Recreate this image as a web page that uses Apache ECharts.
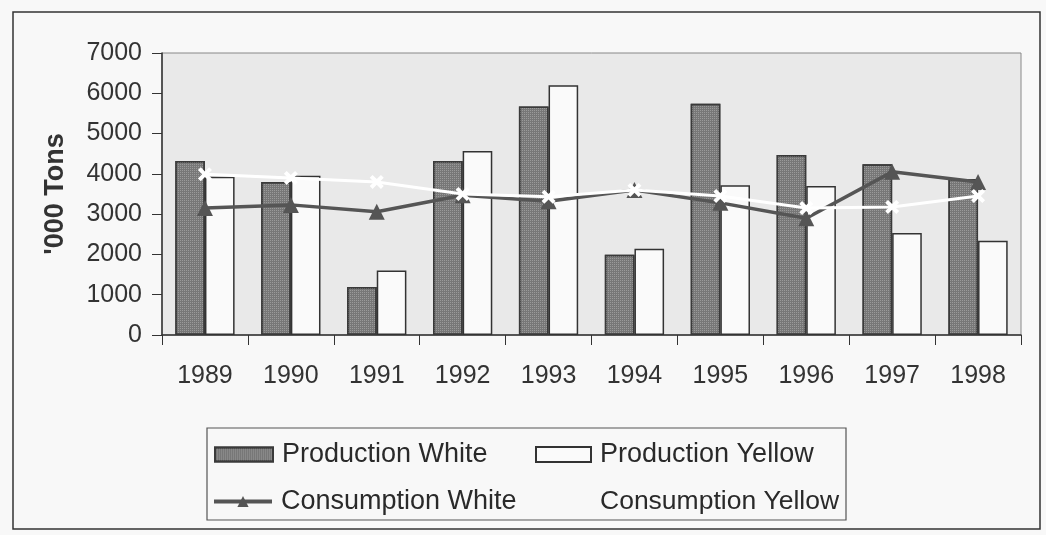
<!DOCTYPE html>
<html>
<head>
<meta charset="utf-8">
<script src="https://cdn.jsdelivr.net/npm/echarts@6/dist/echarts.min.js"></script>
<style>
html,body{margin:0;padding:0;background:#f8f8f8;}
#chart{width:1046px;height:535px;}
</style>
</head>
<body>
<div id="chart"></div>
<script>
const years = ['1989','1990','1991','1992','1993','1994','1995','1996','1997','1998'];
const productionWhite  = [4320, 3800, 1190, 4320, 5670, 1990, 5740, 4470, 4240, 3870];
const productionYellow = [3930, 3950, 1600, 4570, 6200, 2140, 3720, 3700, 2530, 2340];
const consumptionWhite = [3150, 3230, 3060, 3470, 3320, 3600, 3280, 2900, 4050, 3800];
const consumptionYellow= [3990, 3900, 3800, 3500, 3430, 3600, 3450, 3150, 3180, 3450];
const yTicks = [0, 1000, 2000, 3000, 4000, 5000, 6000, 7000];

const FONT = 'Liberation Sans, Arial, sans-serif';
const xPath = 'path://M2,0 L5,3 L8,0 L10,2 L7,5 L10,8 L8,10 L5,7 L2,10 L0,8 L3,5 L0,2 Z';

const chart = echarts.init(document.getElementById('chart'), null, {renderer:'canvas'});

const legendBase = {
  itemWidth: 58, itemHeight: 14,
  textStyle: {fontFamily: FONT, fontSize: 27, color: '#2a2a2a', padding:[0,0,0,4]},
  lineStyle: {width: 4},
  selectedMode: false
};

chart.setOption({
  backgroundColor: '#f8f8f8',
  animation: false,
  graphic: [
    {type:'rect', shape:{x:13, y:12, width:1027, height:517}, style:{fill:'none', stroke:'#333', lineWidth:1.5}, silent:true, z:-1},
    {type:'rect', shape:{x:207, y:428, width:639, height:92}, style:{fill:'none', stroke:'#555', lineWidth:1.2}, silent:true}
  ],
  grid: {left:162, right:25, top:53, bottom:200, show:true, backgroundColor:'#e9e9e9', borderColor:'#888', borderWidth:1},
  legend: [
    Object.assign({}, legendBase, {data:[{name:'Production White', icon:'rect'}], left:209, top:436}),
    Object.assign({}, legendBase, {data:[{name:'Production Yellow', icon:'rect'}], left:530, top:436, itemWidth:55, itemHeight:15}),
    Object.assign({}, legendBase, {data:['Consumption White'], left:207, top:483}),
    Object.assign({}, legendBase, {data:[{name:'Consumption Yellow', icon:'none'}], left:528, top:483, textStyle:{fontFamily: FONT, fontSize: 26.5, color: '#2a2a2a', padding:[0,0,0,4]}})
  ],
  xAxis: {
    type:'category', data: years,
    axisLine:{show:true, lineStyle:{color:'#333', width:1.5}},
    axisTick:{show:true, alignWithLabel:false, length:10, lineStyle:{color:'#333'}},
    axisLabel:{fontFamily:FONT, fontSize:25, color:'#333', margin:29}
  },
  yAxis: {
    type:'value', min: yTicks[0], max: yTicks[yTicks.length-1], interval:1000,
    name:"'000 Tons", nameLocation:'middle', nameGap:93, nameRotate:90,
    nameTextStyle:{fontFamily:FONT, fontSize:27, fontWeight:'bold', color:'#333'},
    axisLine:{show:true, lineStyle:{color:'#333', width:1.5}},
    axisTick:{show:true, length:10, lineStyle:{color:'#333'}},
    axisLabel:{fontFamily:FONT, fontSize:25, color:'#333', margin:20, formatter: v => String(v)},
    splitLine:{show:false}
  },
  series: [
    {name:'Production White', type:'bar', data: productionWhite, barGap:'0%', barCategoryGap:'31%',
     itemStyle:{color:'#777', borderColor:'#3a3a3a', borderWidth:1.5,
       decal:{symbol:'rect', symbolSize:1, dashArrayX:[1,1], dashArrayY:[1,1], color:'rgba(170,170,170,0.7)'}}},
    {name:'Production Yellow', type:'bar', data: productionYellow,
     itemStyle:{color:'#fafafa', borderColor:'#333', borderWidth:1.5}},
    {name:'Consumption White', type:'line', data: consumptionWhite, symbol:'triangle', symbolSize:16,
     lineStyle:{color:'#555', width:3.5}, itemStyle:{color:'#555'}, z:3},
    {name:'Consumption Yellow', type:'line', data: consumptionYellow, symbol:xPath, symbolSize:14,
     lineStyle:{color:'#ffffff', width:3}, itemStyle:{color:'#ffffff'}, z:4}
  ]
});
</script>
</body>
</html>
